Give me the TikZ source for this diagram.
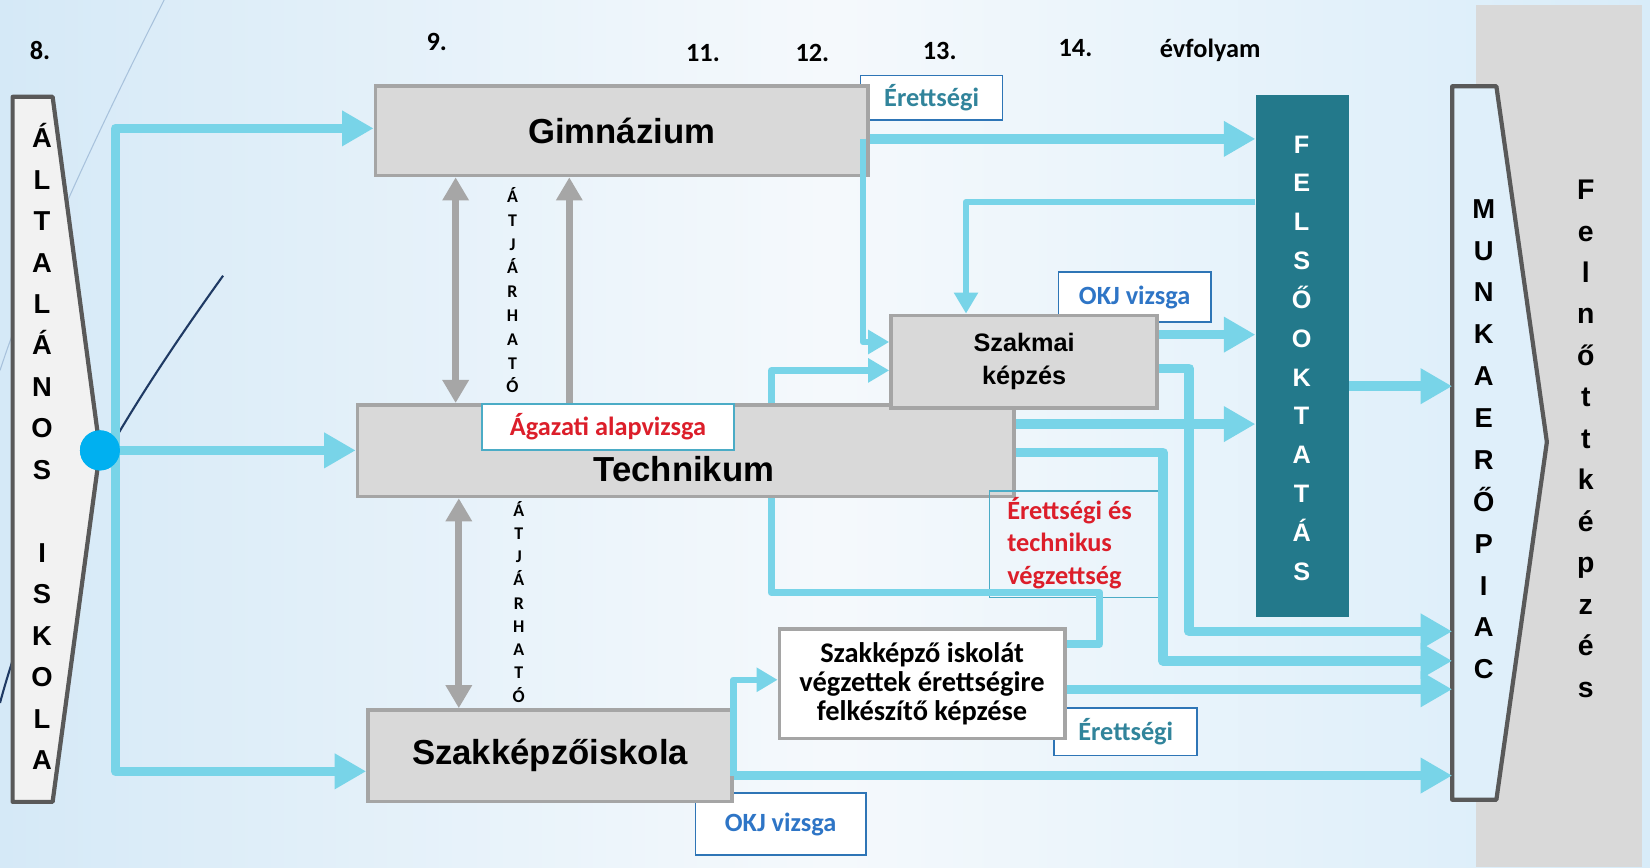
\documentclass[tikz,border=0pt]{standalone}
\usepackage{fontspec}
\setmainfont{Liberation Sans}
\newfontfamily\calfont{Carlito}
\usetikzlibrary{arrows.meta}
\definecolor{arrowblue}{HTML}{78D4E8}
\definecolor{boxfill}{HTML}{D9D9D9}
\definecolor{boxdraw}{HTML}{A5A5A5}
\definecolor{trapdraw}{HTML}{595959}
\definecolor{trapfillL}{HTML}{F2F2F2}
\definecolor{trapfillR}{HTML}{DFEFFA}
\definecolor{felsofill}{HTML}{23798B}
\definecolor{dotblue}{HTML}{00B0F0}
\definecolor{labteal}{HTML}{31849B}
\definecolor{labblue}{HTML}{2E75C6}
\definecolor{labred}{HTML}{DC1E2A}
\definecolor{labborderblue}{HTML}{2E75B6}
\definecolor{labbordertea}{HTML}{4BACC6}
\definecolor{garrow}{HTML}{A6A6A6}
\definecolor{panelgray}{HTML}{D9D9D9}
\definecolor{bgleft}{HTML}{D5E9F7}
\definecolor{bgmid}{HTML}{F5F9FC}
\definecolor{bgright}{HTML}{D8ECF9}
\definecolor{decolight}{HTML}{A8C2DC}
\definecolor{deconavy}{HTML}{1F3A64}
\begin{document}
\begin{tikzpicture}[x=1pt,y=-1pt,
  box/.style={draw=boxdraw, fill=boxfill, line width=3.5pt, anchor=north west, inner sep=0pt, align=center},
  bigfont/.style={font=\bfseries\fontsize{33}{36}\selectfont},
  labbox/.style={line width=1.6pt, fill=white, anchor=north west, inner sep=0pt, font=\calfont\bfseries\fontsize{25}{28}\selectfont},
  conn/.style={draw=arrowblue, line width=9pt, line join=round, -{Triangle[length=30pt,width=32pt]}},
  connS/.style={draw=arrowblue, line width=6pt, line join=round, -{Triangle[length=20pt,width=22pt]}},
  connline/.style={draw=arrowblue, line width=7pt, line join=round},
  gdbl/.style={draw=garrow, line width=7pt, {Triangle[length=22pt,width=24pt]}-{Triangle[length=22pt,width=24pt]}},
  gup/.style={draw=garrow, line width=7pt, -{Triangle[length=22pt,width=24pt]}},
  trap/.style={draw=trapdraw, line width=4pt, line join=round},
  vletA/.style={font=\bfseries\fontsize{26}{26}\selectfont, text height=18.6pt, text depth=0pt, inner sep=0pt},
  vletF/.style={font=\bfseries\fontsize{24}{24}\selectfont, text=white, text height=17pt, text depth=0pt, inner sep=0pt},
  vletM/.style={font=\bfseries\fontsize{26}{26}\selectfont, text height=18.6pt, text depth=0pt, inner sep=0pt},
  vletN/.style={font=\bfseries\fontsize{27}{27}\selectfont, text height=19.3pt, text depth=0pt, inner sep=0pt},
  vletS/.style={font=\calfont\bfseries\fontsize{17}{17}\selectfont, text height=11pt, text depth=0pt, inner sep=0pt},
  numtxt/.style={font=\calfont\bfseries\fontsize{25}{25}\selectfont, inner sep=0pt},
  redtxt/.style={font=\calfont\bfseries\fontsize{25}{28}\selectfont, text=labred, anchor=base west, inner sep=0pt}
]
\useasboundingbox (0,0) rectangle (1568,824);
% background
\shade[left color=bgleft, right color=bgright, middle color=bgmid] (0,0) rectangle (1568,824);
\fill[panelgray] (1403,5) rectangle (1560,824);
% decorative lines
\draw[decolight, line width=1pt] (156,0) .. controls (90,130) and (30,260) .. (0,352);
\draw[deconavy, line width=2pt] (212,262) .. controls (120,390) and (40,520) .. (0,668);
% trapezoids
\draw[trap, fill=trapfillL] (12,92) -- (50,92) -- (95,428) -- (50,762) -- (12,762) -- cycle;
\draw[trap, fill=trapfillR] (1380,82) -- (1422,82) -- (1470,420) -- (1422,760) -- (1380,760) -- cycle;
\coordinate (munkaL) at (1380,420);
% labels behind boxes
\node[labbox, draw=labborderblue, text=labteal, minimum width=135pt, minimum height=42pt] (eretts1) at (817,71) {Érettségi};
\node[labbox, draw=labborderblue, text=labblue, minimum width=145pt, minimum height=47pt] (okj1) at (1005,258) {OKJ vizsga};
\node[labbox, draw=labborderblue, text=labteal, minimum width=136pt, minimum height=45pt] (eretts2) at (1001,672) {Érettségi};
\node[labbox, draw=labborderblue, text=labblue, minimum width=162pt, minimum height=59pt] (okj2) at (660,753) {OKJ vizsga};
% ÁTJÁRHATÓ columns
\foreach \l [count=\i] in {Á,T,J,Á,R,H,A,T,Ó}
  \node[vletS] (atA\i) at (487,{187+(\i-1)*22.6}) {\l};
\foreach \l [count=\i] in {Á,T,J,Á,R,H,A,T,Ó}
  \node[vletS] (atB\i) at (493,{485+(\i-1)*22.1}) {\l};
% main boxes
\node[box, bigfont, minimum width=468pt, minimum height=85pt] (gim) at (355,80) {Gimnázium};
\node[box, minimum width=624pt, minimum height=87pt] (tech) at (338,383) {};
\node[box, bigfont, minimum width=346pt, minimum height=87pt] (szi) at (348,673) {Szakképzőiskola};
\node[box, font=\bfseries\fontsize{24}{31}\selectfont, minimum width=253pt, minimum height=88pt] (szm) at (845,298) {Szakmai\\képzés};
\node[box, fill=white, font=\calfont\bfseries\fontsize{27}{28}\selectfont, minimum width=271pt, minimum height=104pt] (szki) at (739,596) {Szakképző iskolát\\végzettek érettségire\\felkészítő képzése};
\node[anchor=north west, fill=felsofill, minimum width=89pt, minimum height=496pt, inner sep=0pt] (felso) at (1193,90) {};
% helper coordinates
\coordinate (trunkT) at (110,122);
\coordinate (trunkB) at (110,733);
\coordinate (gA) at (823,132);
\coordinate (gB) at (820,325);
\coordinate (fA) at (918,192);
\coordinate (sA) at (0,318);
\coordinate (sB) at (1130,350);
\coordinate (sC) at (1130,600);
\coordinate (tA) at (733,352);
\coordinate (tB) at (0,403);
\coordinate (tC) at (1105,430);
\coordinate (tD) at (1105,628);
\coordinate (tE) at (733,563);
\coordinate (tF) at (1045,563);
\coordinate (tG) at (1045,612);
\coordinate (kA) at (0,655);
\coordinate (iA) at (0,737);
\coordinate (iB) at (697,646);
\coordinate (fB) at (0,367);
\coordinate (gx1) at (433,0);
\coordinate (gx2) at (541,0);
\coordinate (gx3) at (436,0);
% "Érettségi és technikus végzettség" frame
\node[draw=labbordertea, line width=1.2pt, anchor=north west, minimum width=160pt, minimum height=101pt, inner sep=0pt] (etv) at (940,466) {};
% blue connectors
\node[circle, fill=dotblue, minimum size=38pt, inner sep=0pt] (dot) at (95,428) {};
\draw[conn] (dot.center -| trunkT) -- (trunkT) -- (trunkT -| gim.west);
\draw[conn] (dot.center -| trunkB) -- (trunkB) -- (trunkB -| szi.west);
\draw[conn] (dot.center) -- (dot.center -| tech.west);
\draw[conn] (gA -| gim.east) -- (gA -| felso.west);
\draw[connS] (gA -| gB) -- (gB) -- (gB -| szm.west);
\draw[connS] (fA -| felso.west) -- (fA) -- (fA |- szm.north);
\draw[conn] (sA -| szm.east) -- (sA -| felso.west);
\draw[conn] (sB -| szm.east) -- (sB) -- (sC) -- (sC -| munkaL);
\draw[connS] (tA |- tech.north) -- (tA) -- (tA -| szm.west);
\draw[conn] (tB -| tech.east) -- (tB -| felso.west);
\draw[conn] (tC -| tech.east) -- (tC) -- (tD) -- (tD -| munkaL);
\draw[connline] (tE |- tech.south) -- (tE) -- (tF) -- (tG) -- (tG -| szki.east);
\draw[conn] (kA -| szki.east) -- (kA -| munkaL);
\draw[conn] (iA -| szi.east) -- (iA -| munkaL);
\draw[connS] (iB |- iA) -- (iB) -- (iB -| szki.west);
\draw[conn] (fB -| felso.east) -- (fB -| munkaL);
\node[circle, fill=dotblue, minimum size=38pt, inner sep=0pt] (dot2) at (dot.center) {};
% gray arrows
\draw[gdbl] (gx1 |- gim.south) -- (gx1 |- tech.north);
\draw[gup] (gx2 |- tech.north) -- (gx2 |- gim.south);
\draw[gdbl] (gx3 |- tech.south) -- (gx3 |- szi.north);
% labels on top
\node[labbox, draw=labbordertea, text=labred, minimum width=240pt, minimum height=44pt] (agaz) at (457,383) {Ágazati alapvizsga};
\node[bigfont] (techtxt) at (650,446) {Technikum};
\node[redtxt] (etv1) at (957,494) {Érettségi és};
\node[redtxt] (etv2) at (957,524.5) {technikus};
\node[redtxt] (etv3) at (957,555) {végzettség};
% vertical letter stacks
\foreach \l [count=\i] in {Á,L,T,A,L,Á,N,O,S,{},I,S,K,O,L,A}
  \node[vletA] (alt\i) at (40,{131+(\i-1)*39.4}) {\l};
\foreach \l [count=\i] in {F,E,L,S,Ő,O,K,T,A,T,Á,S}
  \node[vletF] (fe\i) at (1237,{137+(\i-1)*36.9}) {\l};
\foreach \l [count=\i] in {M,U,N,K,A,E,R,Ő,P,I,A,C}
  \node[vletM] (mu\i) at (1410,{198+(\i-1)*39.8}) {\l};
\foreach \l [count=\i] in {F,e,l,n,ő,t,t,k,é,p,z,é,s}
  \node[vletN] (fk\i) at (1507,{180+(\i-1)*39.4}) {\l};
% year numbers
\node[numtxt] (n8) at (38,48) {8.};
\node[numtxt] (n9) at (415,40) {9.};
\node[numtxt] (n11) at (668,50) {11.};
\node[numtxt] (n12) at (772,50) {12.};
\node[numtxt] (n13) at (893,48) {13.};
\node[numtxt] (n14) at (1022,46) {14.};
\node[numtxt] (evf) at (1150,48) {évfolyam};
\end{tikzpicture}
\end{document}
